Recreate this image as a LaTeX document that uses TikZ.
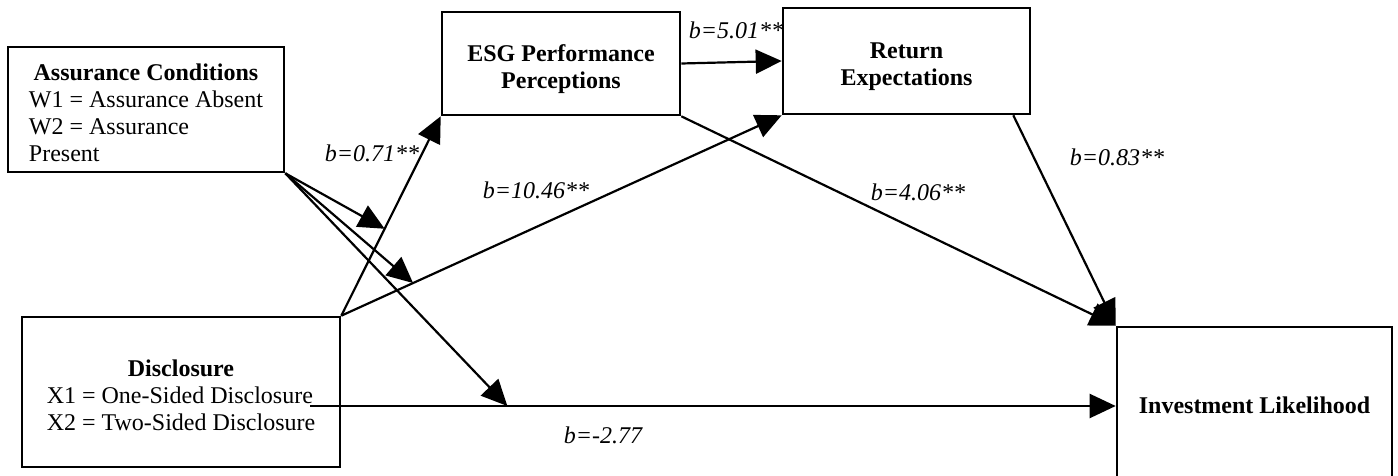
\documentclass[tikz,border=0pt]{standalone}
\usepackage{fontspec}
\setmainfont{Liberation Serif}
\usetikzlibrary{arrows.meta}

% text sits a little low in the boxes
\newcommand\lowtext[1]{\raisebox{-3pt}[\height][\depth]{#1}}

\begin{document}
\begin{tikzpicture}[
    x=0.5pt, y=-0.5pt,
    varbox/.style = {draw, line width=1.3pt, inner sep=0pt, align=center,
                     font=\fontsize{12pt}{13.5pt}\selectfont},
    link/.style   = {line width=1.1pt, -{Triangle[length=13pt, width=12pt]}},
    coef/.style   = {font=\fontsize{12pt}{13.5pt}\selectfont\itshape, inner sep=0pt},
  ]

  % ---------- frame ----------
  \useasboundingbox (0,0) rectangle (1398,476);

  % ---------- variables ----------
  \node[varbox, minimum width=138pt, minimum height=62.5pt] (assur) at (146,109.5)
    {\lowtext{\begin{tabular}{@{}l@{}}
       \multicolumn{1}{@{}c@{}}{\textbf{Assurance Conditions}}\\
       W1 = Assurance Absent\\
       W2 = Assurance\\
       Present
     \end{tabular}}};
  \node[varbox, minimum width=159pt, minimum height=75pt] (discl) at (181,392)
    {\lowtext{\begin{tabular}{@{}l@{}}
       \multicolumn{1}{@{}c@{}}{\textbf{Disclosure}}\\
       X1 = One-Sided Disclosure\\
       X2 = Two-Sided Disclosure
     \end{tabular}}};
  \node[varbox, minimum width=119pt, minimum height=51.5pt] (esg) at (561,63.5)
    {\lowtext{\begin{tabular}{@{}c@{}}
       \textbf{ESG Performance}\\\textbf{Perceptions}
     \end{tabular}}};
  \node[varbox, minimum width=123.5pt, minimum height=53pt] (ret) at (906.5,61)
    {\lowtext{\begin{tabular}{@{}c@{}}
       \textbf{Return}\\\textbf{Expectations}
     \end{tabular}}};
  \node[varbox, minimum width=137.5pt, minimum height=78pt] (invest) at (1254.5,405)
    {\textbf{Investment Likelihood}};

  % ---------- paths ----------
  \draw[link] (discl.north east) -- coordinate[pos=0.436] (onesg) (esg.south west);
  \draw[link] (discl.north east) -- coordinate[pos=0.163] (onret) (ret.south west);
  \draw[link] (esg.east) -- (ret.west);
  \draw[link] (esg.south east) -- (invest.north west);
  \draw[link] ([xshift=-9pt]ret.south east) -- (invest.north west);
  \coordinate (hstart) at (310,406);
  \draw[link] (hstart) -- coordinate[pos=0.245] (ondirect) (hstart -| invest.west);

  % ---------- moderation by assurance ----------
  \foreach \t in {onesg, onret, ondirect}
    \draw[link] (assur.south east) -- (\t);

  % ---------- coefficients ----------
  \node[coef] (c071)  at (372,153) {b=0.71**};
  \node[coef] (c1046) at (536,190) {b=10.46**};
  \node[coef] (c501)  at (736,30)  {b=5.01**};
  \node[coef] (c406)  at (918,192) {b=4.06**};
  \node[coef] (c083)  at (1117,157) {b=0.83**};
  \node[coef] (c277)  at (603,435) {b=-2.77};

\end{tikzpicture}
\end{document}
